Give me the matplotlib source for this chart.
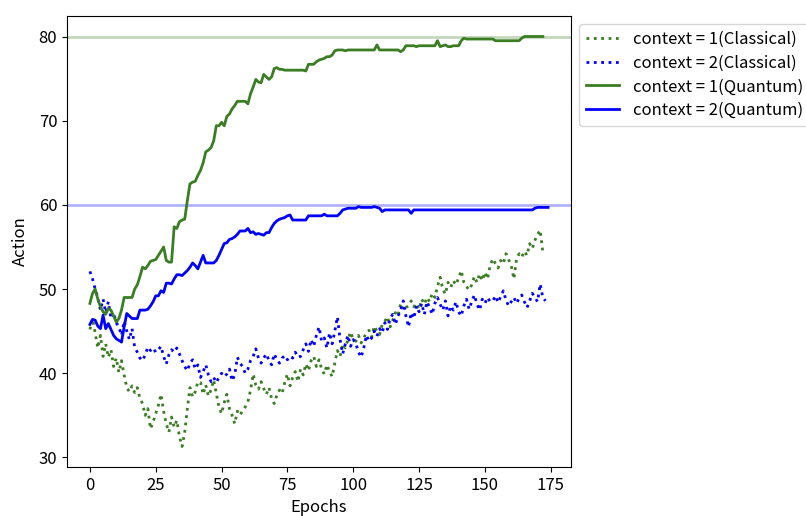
import matplotlib
matplotlib.use("Agg")
import matplotlib.pyplot as plt
import numpy as np

plt.rcParams['font.family'] = ['Noto Sans CJK JP', 'DejaVu Sans']
plt.rcParams['font.size'] = 12

classical_ctx1 = [
    45.2, 46.5, 44.8, 43.0, 44.5, 42.0, 43.5, 41.9, 42.8, 40.8,
    41.8, 40.1, 41.5, 39.8, 38.3, 37.8, 38.5, 37.7, 38.3, 37.0,
    36.4, 35.0, 35.8, 33.4, 34.2, 35.2, 36.2, 37.5, 35.5, 34.0,
    33.0, 34.8, 33.6, 34.4, 32.5, 31.3, 33.0, 35.8, 38.3, 37.2,
    37.8, 39.0, 38.9, 37.5, 38.6, 37.3, 38.0, 39.2, 37.6, 36.0,
    35.2, 36.5, 37.5, 35.8, 35.0, 34.0, 35.5, 35.0, 35.6, 36.0,
    36.6, 38.0, 39.9, 38.6, 38.1, 39.0, 38.2, 37.5, 38.3, 37.0,
    36.4, 37.4, 38.0, 37.6, 38.9, 39.9, 38.5, 39.5, 40.2, 39.0,
    40.5, 39.8, 41.1, 40.3, 41.5, 42.0, 40.8, 41.6, 40.5, 39.9,
    41.0, 40.2, 39.6, 41.2, 42.7, 42.0, 43.5, 43.0, 44.0, 44.9,
    44.0, 43.8, 44.5, 43.6, 44.2, 44.8, 45.1, 44.3, 45.6, 45.0,
    44.6, 45.8, 46.2, 46.7, 45.5, 46.3, 47.2, 46.8, 48.3, 47.5,
    47.8, 48.0, 48.6, 47.9, 48.3, 47.6, 48.8, 48.2, 49.0, 48.5,
    49.5, 49.0, 50.3, 51.4, 50.0, 49.4, 50.8, 50.2, 51.0, 50.5,
    51.3, 52.2, 50.8, 50.3, 49.9, 50.5, 51.5, 50.8, 51.8, 51.0,
    52.0, 51.2, 52.8, 53.6, 53.0, 52.5, 53.4, 53.0, 54.2, 53.5,
    52.8, 51.2, 53.5, 54.2, 53.8, 54.5, 54.0, 55.4, 54.8, 55.8,
    56.5, 57.0, 54.4,
]

classical_ctx2 = [
    52.1, 51.2, 50.0, 49.0, 47.5, 48.8, 47.2, 48.5, 46.5, 47.2,
    46.0, 45.5, 44.5, 46.2, 45.0, 44.0, 45.3, 43.1, 42.5, 41.8,
    41.5, 42.2, 43.1, 42.7, 43.0, 42.5, 42.8, 43.2, 42.0, 41.1,
    42.2, 42.8, 42.5, 43.0, 42.3, 41.5, 40.8, 40.3, 41.2, 41.6,
    40.5, 41.0, 39.5, 40.2, 41.0, 39.8, 39.0, 39.5, 38.9, 39.5,
    40.0, 39.6, 39.9, 40.5, 39.1, 39.8, 41.9, 41.2, 40.8, 40.0,
    40.5, 41.5, 42.0, 42.9, 41.8, 41.2, 41.8, 42.3, 41.5, 41.0,
    42.3, 41.6, 41.2, 41.8, 42.1, 41.6, 42.0, 41.8, 42.5, 41.9,
    42.0, 42.8, 43.5, 42.6, 44.0, 43.2, 44.5, 45.5, 43.8, 44.2,
    43.0, 44.8, 43.5, 45.0, 46.7, 44.0, 42.3, 43.5, 44.5, 43.2,
    44.0, 43.5, 42.5, 41.9, 43.0, 44.5, 43.8, 44.2, 45.0, 44.4,
    45.3, 44.8, 46.0, 45.2, 46.5, 47.0, 45.8, 46.8, 47.5, 48.6,
    46.8, 45.5, 47.2, 46.5, 48.0, 47.3, 48.3, 47.0, 48.5, 47.8,
    47.0, 48.3, 49.0, 48.2, 47.5, 48.6, 46.8, 48.0, 47.5, 48.5,
    47.3, 46.8, 48.0, 48.8, 47.6, 48.5, 49.3, 48.2, 47.5, 48.8,
    48.3, 49.0, 48.5, 48.6, 49.2, 48.4, 49.1, 49.8, 48.7, 48.0,
    48.5, 49.0, 48.3, 48.9, 49.3, 48.5, 47.8, 48.6, 49.5, 49.0,
    48.5, 50.6, 49.0, 48.6,
]

quantum_ctx1 = [
    48.3, 49.5, 50.0, 48.8, 47.9, 47.3, 47.0, 47.7, 47.5, 46.8,
    46.1, 46.5, 47.5, 49.0, 49.0, 49.0, 49.0, 50.0, 50.5, 51.5,
    52.6, 52.4, 52.8, 53.3, 53.4, 53.5, 54.0, 54.5, 55.0, 53.4,
    53.2, 53.2, 57.4, 57.2, 58.0, 58.2, 58.3, 60.5, 62.5, 62.7,
    62.8, 63.5, 64.1, 65.0, 66.3, 66.5, 66.8, 67.6, 69.4, 69.4,
    69.8, 69.4, 70.5, 70.8, 71.4, 71.8, 72.3, 72.3, 72.3, 72.3,
    72.0, 73.2, 74.0, 74.9, 74.6, 74.5, 75.5, 75.2, 74.9, 75.2,
    76.2, 76.3, 76.1, 76.1, 76.0, 76.0, 76.0, 76.0, 76.0, 76.0,
    76.0, 76.0, 75.9, 76.7, 76.7, 76.7, 77.0, 77.2, 77.3, 77.4,
    77.6, 77.6, 77.8, 78.3, 78.4, 78.4, 78.4, 78.3, 78.4, 78.4,
    78.4, 78.4, 78.4, 78.4, 78.4, 78.4, 78.4, 78.4, 78.4, 79.0,
    78.4, 78.4, 78.4, 78.4, 78.4, 78.4, 78.4, 78.4, 78.2, 78.4,
    78.9, 78.9, 78.9, 78.9, 78.8, 78.9, 78.9, 78.9, 78.9, 78.9,
    78.9, 78.9, 79.5, 78.8, 78.9, 79.0, 78.8, 78.8, 78.9, 78.9,
    78.9, 79.5, 79.8, 79.7, 79.7, 79.7, 79.7, 79.7, 79.7, 79.7,
    79.7, 79.7, 79.7, 79.7, 79.5, 79.5, 79.5, 79.5, 79.5, 79.5,
    79.5, 79.5, 79.5, 79.5, 79.8, 80.0, 80.0, 80.0, 80.0, 80.0,
    80.0, 80.0, 80.0,
]

quantum_ctx2 = [
    45.8, 46.4, 46.3, 45.6, 45.3, 46.9, 45.3, 45.9, 45.2, 44.5,
    44.1, 43.9, 43.7, 45.5, 47.1, 46.8, 46.5, 46.5, 46.5, 47.5,
    47.5, 47.5, 47.6, 48.0, 48.5, 49.2, 49.2, 49.8, 49.6, 50.7,
    50.7, 50.6, 51.2, 51.7, 51.7, 51.6, 51.9, 52.2, 52.6, 53.1,
    52.8, 52.4, 53.2, 54.0, 53.1, 53.1, 53.1, 53.1, 53.4, 54.0,
    54.7, 55.4, 55.5, 55.9, 56.0, 56.2, 56.5, 56.9, 56.9, 56.9,
    57.2, 56.7, 56.8, 56.5, 56.6, 56.5, 56.4, 56.7, 56.7, 57.3,
    57.8, 58.1, 58.3, 58.4, 58.5, 58.7, 58.8, 58.2, 58.2, 58.2,
    58.2, 58.2, 58.2, 58.7, 58.7, 58.7, 58.7, 58.7, 58.7, 58.9,
    58.7, 58.7, 58.7, 58.7, 58.7, 59.0, 59.4, 59.5, 59.6, 59.6,
    59.6, 59.6, 59.8, 59.7, 59.7, 59.7, 59.7, 59.7, 59.8, 59.7,
    59.6, 59.2, 59.4, 59.4, 59.4, 59.4, 59.4, 59.4, 59.4, 59.4,
    59.4, 59.4, 59.0, 59.4, 59.4, 59.4, 59.4, 59.4, 59.4, 59.4,
    59.4, 59.4, 59.4, 59.4, 59.4, 59.4, 59.4, 59.4, 59.4, 59.4,
    59.4, 59.4, 59.4, 59.4, 59.4, 59.4, 59.4, 59.4, 59.4, 59.4,
    59.4, 59.4, 59.4, 59.4, 59.4, 59.4, 59.4, 59.4, 59.4, 59.4,
    59.4, 59.4, 59.4, 59.4, 59.4, 59.4, 59.4, 59.4, 59.4, 59.6,
    59.7, 59.7, 59.7, 59.7, 59.7,
]

optimal_ctx1 = 80
optimal_ctx2 = 60

labels = ['context = 1(Classical)', 'context = 2(Classical)',
          'context = 1(Quantum)', 'context = 2(Quantum)']

green = '#3a7d22'
blue = '#0000ff'

fig = plt.figure(figsize=(8.06, 5.16), dpi=100)
ax = fig.add_axes([67 / 806, 49 / 516, 504 / 806, 451 / 516])

ax.axhline(optimal_ctx1, color=green, alpha=0.3, lw=2)
ax.axhline(optimal_ctx2, color=blue, alpha=0.3, lw=2)

ax.plot(np.arange(len(classical_ctx1)), classical_ctx1, ':', color=green, lw=2, label=labels[0])
ax.plot(np.arange(len(classical_ctx2)), classical_ctx2, ':', color=blue, lw=2, label=labels[1])
ax.plot(np.arange(len(quantum_ctx1)), quantum_ctx1, '-', color=green, lw=2, label=labels[2])
ax.plot(np.arange(len(quantum_ctx2)), quantum_ctx2, '-', color=blue, lw=2, label=labels[3])

ax.set_xlabel('Epochs')
ax.set_ylabel('Action', labelpad=7)
ax.set_xticks([0, 25, 50, 75, 100, 125, 150, 175])
ax.set_yticks([30, 40, 50, 60, 70, 80])
ax.legend(loc='upper left', bbox_to_anchor=(1.0, 1.0), labelspacing=0.4)

fig.savefig('out.png', dpi=100)
